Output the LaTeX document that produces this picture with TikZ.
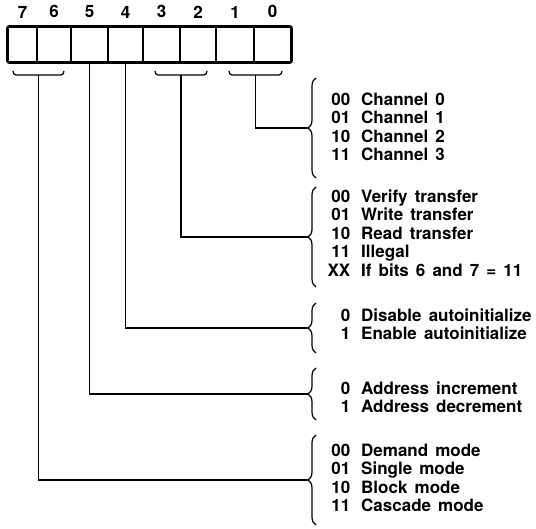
\documentclass[tikz,border=0pt]{standalone}
\usepackage{fontspec}
\setmainfont{TeX Gyre Heros}[WordSpace=1.5]
\usetikzlibrary{positioning,decorations.pathreplacing}
\newcommand{\code}[1]{\makebox[30pt][r]{#1}\hspace{11pt}}
\newcommand{\regbrace}[3]{%
  \draw[wire] (#1,71) to[out=-90,in=180] (#1+3,75) -- (#2-3,75) to[out=0,in=-90] (#2,71);
  \coordinate (#3) at ({(#1+#2)/2},75);}

\begin{document}
\begin{tikzpicture}[x=1pt, y=-1pt,
    cell/.style={draw, line width=1.5pt, minimum height=35pt, inner sep=0pt},
    bitlabel/.style={font=\bfseries\fontsize{17}{18}\selectfont, inner sep=0pt},
    wire/.style={line width=1.2pt},
    curly/.style={decorate, decoration={brace, amplitude=8pt, aspect=0.5}, line width=1.2pt},
    codes/.style={anchor=west, inner sep=0pt, align=left, font=\bfseries\fontsize{17}{18.5}\selectfont}]
    \useasboundingbox (0,0) rectangle (536,529);

    % register cells
    \foreach \b/\xl/\xr in {7/8/37,6/37/71,5/71/108,4/108/143,3/143/180,2/180/216,1/216/254,0/254/291} {
      \node[cell, minimum width={\xr pt-\xl pt}] (b\b) at ({(\xl+\xr)/2},44.5) {};
      \node[bitlabel, above=8pt of b\b] (l\b) {\b};
    }
    \draw[line width=2.2pt, rounded corners=2pt] (b7.north west) rectangle (b0.south east);

    % small brackets under bit pairs
    \regbrace{13}{64}{s76}
    \regbrace{155}{207}{s32}
    \regbrace{229}{282}{s10}

    % braces and their tips
    \draw[curly] (316,178) -- (316,78);
    \draw[curly] (316,287) -- (316,187);
    \draw[curly] (316,353) -- (316,303);
    \draw[curly] (316,420) -- (316,368);
    \draw[curly] (316,525) -- (316,435);
    \coordinate (t1) at (308,128);
    \coordinate (t2) at (308,237);
    \coordinate (t3) at (308,328);
    \coordinate (t4) at (308,394);
    \coordinate (t5) at (308,480);

    % descriptions
    \node[codes] (g1) at (320,127) {\code{00}Channel 0\\\code{01}Channel 1\\\code{10}Channel 2\\\code{11}Channel 3};
    \node[codes] (g2) at (320,233) {\code{00}Verify transfer\\\code{01}Write transfer\\\code{10}Read transfer\\\code{11}Illegal\\\code{XX}If bits 6 and 7 = 11};
    \node[codes] (g3) at (320,324) {\code{0}Disable autoinitialize\\\code{1}Enable autoinitialize};
    \node[codes] (g4) at (320,397) {\code{0}Address increment\\\code{1}Address decrement};
    \node[codes] (g5) at (320,478) {\code{00}Demand mode\\\code{01}Single mode\\\code{10}Block mode\\\code{11}Cascade mode};

    % connectors
    \draw[wire] (s10) |- (t1);
    \draw[wire] (s32) |- (t2);
    \draw[wire] (b4.south) |- (t3);
    \draw[wire] (b5.south) |- (t4);
    \draw[wire] (s76) |- (t5);
\end{tikzpicture}
\end{document}
